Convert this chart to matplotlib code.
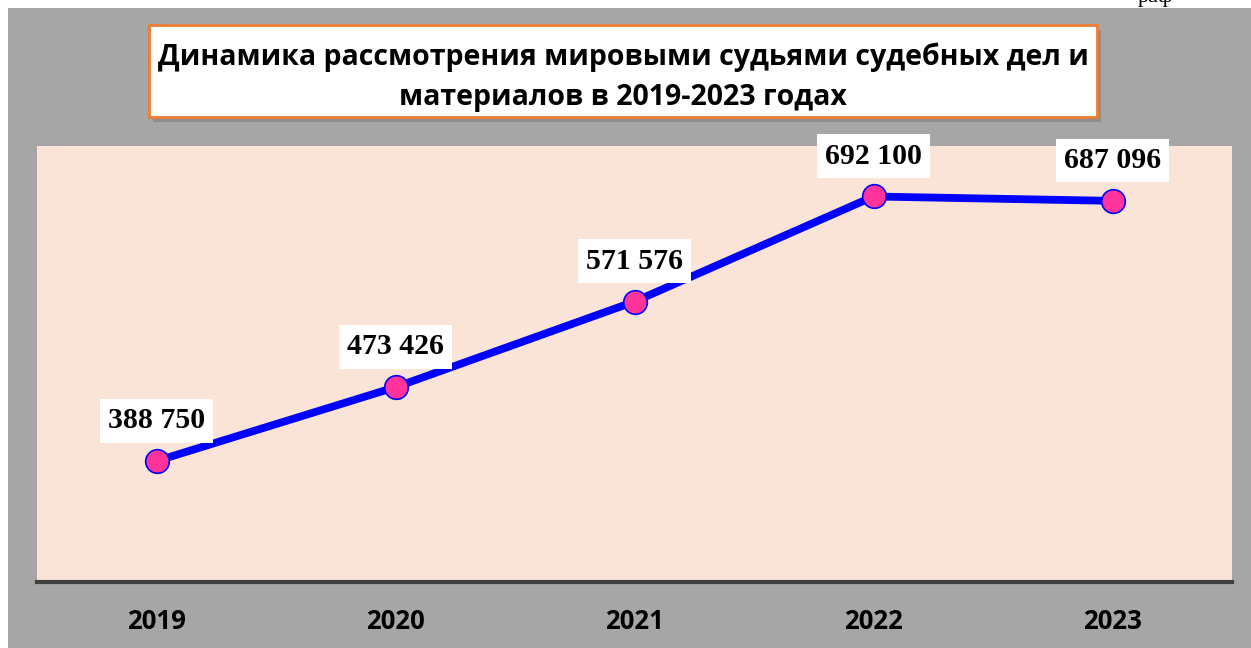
import matplotlib.pyplot as plt
from matplotlib.patches import Rectangle

# data
years = ['2019', '2020', '2021', '2022', '2023']
cases = [388750, 473426, 571576, 692100, 687096]
labels = ['388 750', '473 426', '571 576', '692 100', '687 096']
title = 'Динамика рассмотрения мировыми судьями судебных дел и\nматериалов в 2019-2023 годах'

W, H = 1251, 648
fig = plt.figure(figsize=(W / 100, H / 100), dpi=100, facecolor='white')

# grey chart background (white strip on top and left)
fig.patches.append(Rectangle((8 / W, 0), 1, 1 - 8 / H, transform=fig.transFigure,
                             facecolor='#a6a6a6', edgecolor='none', zorder=-5))
# cut-off text from the page above
fig.text(1155 / W, 1 - 2 / H, 'раф', family='Liberation Serif', fontsize=16,
         ha='center', va='baseline', color='black')

ax = fig.add_axes([37 / W, 1 - 582 / H, (1232 - 37) / W, (582 - 146) / H])
ax.set_zorder(1)
ax.set_facecolor('#fae4d7')
ax.plot(range(len(years)), cases, color='#0000ff', lw=5.6, marker='o',
        markersize=17, markerfacecolor='#ff3399', markeredgecolor='#0000ff',
        markeredgewidth=1.2, zorder=3)

for i, (v, s) in enumerate(zip(cases, labels)):
    ax.annotate(s, (i, v), xytext=(0, 29), textcoords='offset points',
                ha='center', va='center', fontsize=21.5, fontweight='bold',
                family='Liberation Serif', zorder=4,
                bbox=dict(boxstyle='square,pad=0.28', fc='white', ec='none'))

ax.set_xlim(-0.5, 4.5)
ax.set_ylim(250000, 750000)
ax.set_yticks([])
ax.set_xticks(range(len(years)))
ax.set_xticklabels(years, fontsize=18.5, fontweight='bold', family='Open Sans')
ax.tick_params(axis='x', length=0, pad=19)
for side in ['top', 'left', 'right']:
    ax.spines[side].set_visible(False)
ax.spines['bottom'].set_color('#404040')
ax.spines['bottom'].set_linewidth(3)

# title box with shadow
bx, by, bw, bh = 149, 25, 948, 92
fig.patches.append(Rectangle(((bx + 4) / W, 1 - (by + bh + 5) / H), bw / W, bh / H,
                             transform=fig.transFigure, facecolor='#7f7f7f',
                             edgecolor='none', alpha=0.6, zorder=1))
fig.patches.append(Rectangle((bx / W, 1 - (by + bh) / H), bw / W, bh / H,
                             transform=fig.transFigure, facecolor='white',
                             edgecolor='#ed7d31', lw=2, zorder=2))
fig.text((bx + bw / 2) / W, 1 - 77 / H, title, ha='center', va='center',
         fontsize=20.5, fontweight='bold', family='Open Sans',
         linespacing=1.52, zorder=3)

fig.savefig('out.png', dpi=100, facecolor=fig.get_facecolor())
